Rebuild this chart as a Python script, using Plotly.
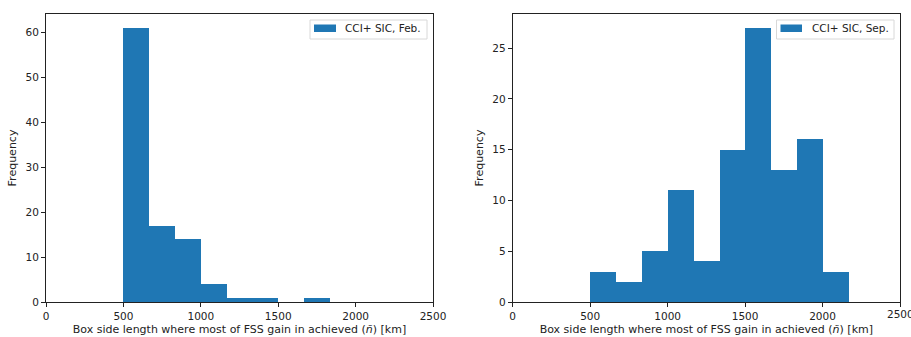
import plotly.graph_objects as go
from plotly.subplots import make_subplots

# Histogram bin edges (km) and counts
bin_edges = [500.0, 666.67, 833.33, 1000.0, 1166.67, 1333.33, 1500.0, 1666.67, 1833.33, 2000.0, 2166.67]
feb_counts = [61, 17, 14, 4, 1, 1, 0, 1, 0, 0]
sep_counts = [3, 2, 5, 11, 4, 15, 27, 13, 16, 3]
feb_label = "CCI+ SIC, Feb."
sep_label = "CCI+ SIC, Sep."
x_title = "Box side length where most of FSS gain in achieved (<i>ñ</i>) [km]"
y_title = "Frequency"
x_ticks = [0, 500, 1000, 1500, 2000, 2500]

BLUE = "#1f77b4"
FONT = "DejaVu Sans"

centers = [(a + b) / 2 for a, b in zip(bin_edges[:-1], bin_edges[1:])]
widths = [b - a for a, b in zip(bin_edges[:-1], bin_edges[1:])]

fig = make_subplots(rows=1, cols=2, horizontal_spacing=0.0933)
fig.add_trace(go.Bar(x=centers, y=feb_counts, width=widths, marker=dict(color=BLUE, line=dict(width=0)),
                     name=feb_label, showlegend=False), row=1, col=1)
fig.add_trace(go.Bar(x=centers, y=sep_counts, width=widths, marker=dict(color=BLUE, line=dict(width=0)),
                     name=sep_label, showlegend=False), row=1, col=2)

axis_common = dict(showgrid=False, zeroline=False, showline=True, linecolor="#222", linewidth=1,
                   mirror=True, ticks="outside", ticklen=4, tickcolor="#222", automargin=False,
                   tickfont=dict(family=FONT, size=10.5, color="#222"))
fig.update_xaxes(range=[0, 2500], tickvals=x_ticks, title=dict(text=x_title, standoff=4,
                 font=dict(family=FONT, size=11, color="#222")), **axis_common)
fig.update_yaxes(rangemode="tozero", title=dict(text=y_title, standoff=6,
                 font=dict(family=FONT, size=11, color="#222")), **axis_common)
fig.update_yaxes(range=[0, max(feb_counts) * 1.05], dtick=10, row=1, col=1)
fig.update_yaxes(range=[0, max(sep_counts) * 1.05], dtick=5, row=1, col=2)
fig.update_xaxes(domain=[0, 0.4532], row=1, col=1)
fig.update_xaxes(domain=[0.5465, 1.0], row=1, col=2)

# matplotlib-style legends drawn in paper coords
W, H = 911, 337
ml, mr, mt, mb = 46, 11, 14, 35
pw, ph = W - ml - mr, H - mt - mb

def px(x):
    return (x - ml) / pw

def py(y):
    return 1 - (y - mt) / ph

for (bx0, bx1, patch0, patch1, tx, label) in [
    (310, 427, 314, 336, 343, feb_label),
    (776.5, 894, 780.5, 802, 809.5, sep_label),
]:
    fig.add_shape(type="rect", xref="paper", yref="paper", x0=px(bx0), x1=px(bx1), y0=py(39), y1=py(20),
                  line=dict(color="#d8d8d8", width=1), fillcolor="rgba(255,255,255,0.8)")
    fig.add_shape(type="rect", xref="paper", yref="paper", x0=px(patch0), x1=px(patch1), y0=py(32), y1=py(24.5),
                  line=dict(width=0), fillcolor=BLUE)
    fig.add_annotation(xref="paper", yref="paper", x=px(tx), y=py(28.3), text=label, showarrow=False,
                       xanchor="left", yanchor="middle", font=dict(family=FONT, size=10.5, color="#222"))

# last tick label of the right panel overflows the page edge (clipped like the reference)
fig.add_annotation(xref="x2", yref="paper", x=x_ticks[-1], y=py(314), text=str(x_ticks[-1]), showarrow=False,
                   xanchor="center", yanchor="middle", font=dict(family=FONT, size=10.5, color="#222"))

fig.update_layout(width=W, height=H, margin=dict(l=ml, r=mr, t=mt, b=mb),
                  plot_bgcolor="white", paper_bgcolor="white", bargap=0,
                  font=dict(family=FONT, size=10.5, color="#222"))
fig.write_html("out.html")
